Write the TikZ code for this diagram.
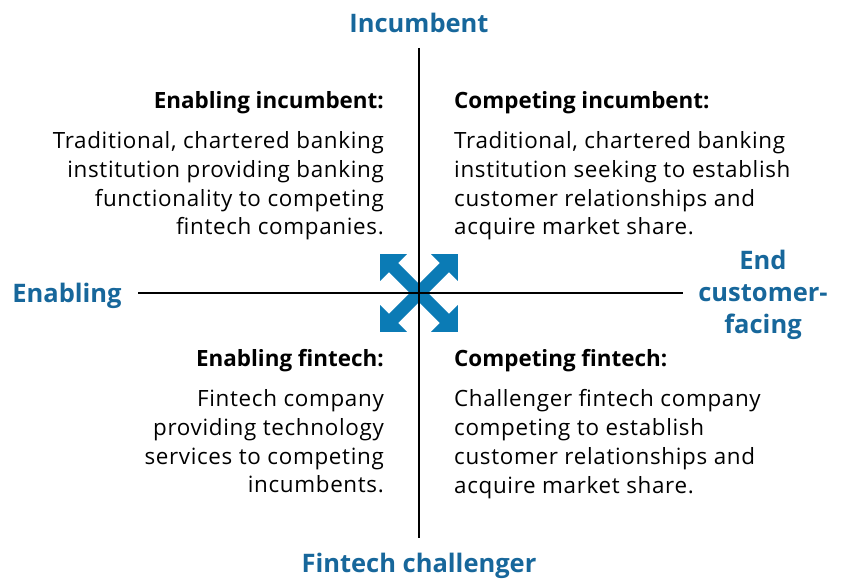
\documentclass[tikz,border=0pt]{standalone}
\usepackage{fontspec}
\setmainfont{Open Sans}
\usetikzlibrary{positioning}

\definecolor{axisblue}{HTML}{17679B}
\definecolor{arrowblue}{HTML}{0B7BB5}

\tikzset{
  axisline/.style={black, line width=2pt},
  axislabel/.style={text=axisblue, font=\fontsize{25.5}{32}\selectfont\bfseries, inner sep=0pt, align=center},
  quadtitle/.style={font=\fontsize{22.4}{26}\selectfont\bfseries, inner sep=0pt},
  quadtext/.style={font=\fontsize{22.4}{28.7}\selectfont\addfontfeature{LetterSpace=3}, inner sep=0pt},
}

\begin{document}
\begin{tikzpicture}[x=1pt,y=-1pt]
\useasboundingbox (0,0) rectangle (842,578);

%centre arrows
\begin{scope}[shift={(419,293)}]
\foreach \a in {45,135,225,315}
  \fill[arrowblue,rotate=\a] (0,-6.5) -- (36,-6.5) -- (36,-19) -- (55,0) -- (36,19) -- (36,6.5) -- (0,6.5) -- cycle;
\end{scope}

%axes
\coordinate (top) at (419,48);
\coordinate (bottom) at (419,538);
\coordinate (left) at (138,293);
\coordinate (right) at (683,293);
\draw[axisline] (top) -- (bottom);
\draw[axisline] (left) -- (right);

\node[axislabel] (incumbent) at (419,23) {Incumbent};
\node[axislabel] (challenger) at (419,565.5) {Fintech challenger};
\node[axislabel] (enabling) at (67,295.5) {Enabling};
\node[axislabel] (facing) at (763,295) {End\\customer-\\facing};

%quadrants
\node[quadtitle, anchor=base east] (enabinc) at (384,108) {Enabling incumbent:};
\node[quadtext, below=18pt of enabinc.south east, anchor=north east, align=right] (enabinctext)
  {Traditional, chartered banking\\institution providing banking\\functionality to competing\\fintech companies.};

\node[quadtitle, anchor=base west] (compinc) at (454,108) {Competing incumbent:};
\node[quadtext, below=18pt of compinc.south west, anchor=north west, align=left] (compinctext)
  {Traditional, chartered banking\\institution seeking to establish\\customer relationships and\\acquire market share.};

\node[quadtitle, anchor=base east] (enabfin) at (384,366) {Enabling fintech:};
\node[quadtext, below=18pt of enabfin.south east, anchor=north east, align=right] (enabfintext)
  {Fintech company\\providing technology\\services to competing\\incumbents.};

\node[quadtitle, anchor=base west] (compfin) at (454,366) {Competing fintech:};
\node[quadtext, below=18pt of compfin.south west, anchor=north west, align=left] (compfintext)
  {Challenger fintech company\\competing to establish\\customer relationships and\\acquire market share.};

\end{tikzpicture}
\end{document}
